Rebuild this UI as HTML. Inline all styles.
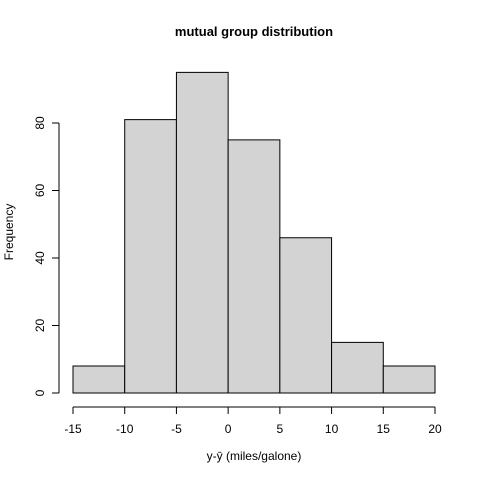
<!DOCTYPE html>
<html><head><meta charset="utf-8"><style>
body{margin:0;background:#fff}
text{font-family:"Liberation Sans",Arial,sans-serif;font-size:12px;fill:#000}
</style></head><body>
<svg id="chart" width="480" height="480" viewBox="0 0 480 480">
<rect width="480" height="480" fill="#fff"/>
<text x="254" y="36" text-anchor="middle" font-weight="bold" style="font-size:13px">mutual group distribution</text>
<text x="254" y="460" text-anchor="middle">y-ȳ (miles/galone)</text>
<text transform="translate(13,232) rotate(-90)" text-anchor="middle">Frequency</text>
<g id="bars"></g><g id="xaxis"></g><g id="yaxis"></g>
</svg>
<script>
const breaks=[-15,-10,-5,0,5,10,15,20];
const counts=[8,81,95,75,46,15,8];
const xTicks=[-15,-10,-5,0,5,10,15,20];
const yTicks=[0,20,40,60,80];
const NS="http://www.w3.org/2000/svg";
function X(v){return 73+(v+15)*(435-73)/35;}
function Y(v){return 393-v*270/80;}
function mk(t,a,p){const e=document.createElementNS(NS,t);for(const k in a)e.setAttribute(k,a[k]);p.appendChild(e);return e;}
const bars=document.getElementById('bars');
counts.forEach((c,i)=>{
 const r=mk('rect',{x:X(breaks[i]),y:Y(c),width:X(breaks[i+1])-X(breaks[i]),height:Y(0)-Y(c),fill:'#d3d3d3',stroke:'#000','stroke-width':1},bars);
 
 
});
const xa=document.getElementById('xaxis');


mk('line',{x1:X(xTicks[0]),x2:X(xTicks[xTicks.length-1]),y1:407,y2:407,stroke:'#000'},xa);
xTicks.forEach(v=>{
 mk('line',{x1:X(v),x2:X(v),y1:407,y2:414,stroke:'#000'},xa);
 const t=mk('text',{x:X(v),y:433,'text-anchor':'middle'},xa);t.textContent=v;
 
 
});
const ya=document.getElementById('yaxis');


mk('line',{x1:59,x2:59,y1:Y(yTicks[0]),y2:Y(yTicks[yTicks.length-1]),stroke:'#000'},ya);
yTicks.forEach(v=>{
 mk('line',{x1:52,x2:59,y1:Y(v),y2:Y(v),stroke:'#000'},ya);
 const t=mk('text',{transform:'translate(44,'+Y(v)+') rotate(-90)','text-anchor':'middle'},ya);t.textContent=v;
 
 
});
</script>
</body></html>
